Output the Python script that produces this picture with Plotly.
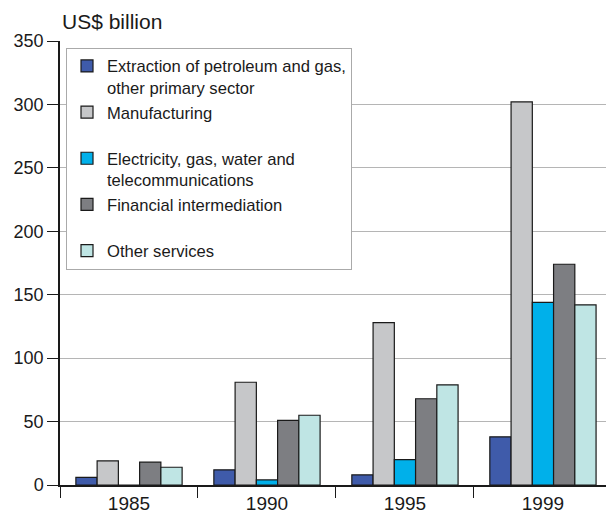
import plotly.graph_objects as go

years = ["1985", "1990", "1995", "1999"]
series_names = [
    "Extraction of petroleum and gas,<br>other primary sector",
    "Manufacturing<br> ",
    "Electricity, gas, water and<br>telecommunications",
    "Financial intermediation<br> ",
    "Other services",
]
extraction = [6, 12, 8, 38]
manufacturing = [19, 81, 128, 302]
electricity = [0, 4, 20, 144]
financial = [18, 51, 68, 174]
other_services = [14, 55, 79, 142]
colors = ["#3F5BAA", "#C6C7C9", "#00B0EA", "#7D7E82", "#BFE5E4"]

values = [extraction, manufacturing, electricity, financial, other_services]

fig = go.Figure()
for name, vals, col in zip(series_names, values, colors):
    fig.add_trace(go.Bar(
        x=years, y=vals, name=name,
        marker=dict(color=col, line=dict(color="#1a1a1a", width=1.2)),
    ))

fig.update_layout(
    width=606, height=516,
    margin=dict(l=60, r=0, t=41, b=31),
    paper_bgcolor="white", plot_bgcolor="white",
    barmode="group", bargap=0.23, bargroupgap=0,
    font=dict(family="Liberation Sans, Arial, sans-serif", color="#1a1a1a", size=18),
    showlegend=True,
    legend=dict(
        x=0.011, y=0.985, xanchor="left", yanchor="top",
        bgcolor="white", bordercolor="#aaaaaa", borderwidth=1,
        font=dict(size=16.6), valign="top", itemwidth=30,
        tracegroupgap=0,
    ),
    annotations=[dict(
        text="US$ billion", xref="paper", yref="paper", x=0.0, y=1.0,
        xanchor="left", yanchor="bottom", showarrow=False, yshift=6,
        font=dict(size=21, color="#1a1a1a"),
    )],
)
fig.update_xaxes(
    type="category", range=[-0.5, 3.457], automargin=False,
    showline=True, linecolor="#1a1a1a", linewidth=1.5,
    ticks="outside", tickson="boundaries", ticklen=11, tickcolor="#1a1a1a",
    showgrid=False, tickfont=dict(size=19), ticklabelstandoff=0,
)
fig.update_yaxes(
    range=[0, 350], tickvals=[0, 50, 100, 150, 200, 250, 300, 350],
    automargin=False,
    showline=True, linecolor="#1a1a1a", linewidth=1.5,
    ticks="outside", ticklen=11, tickcolor="#1a1a1a",
    showgrid=True, gridcolor="#b5b5b5", gridwidth=1,
    tickfont=dict(size=18), zeroline=False,
)

fig.write_html("out.html", config={"displayModeBar": False},
               post_script="document.body.style.margin='0';document.body.style.overflow='hidden';")
